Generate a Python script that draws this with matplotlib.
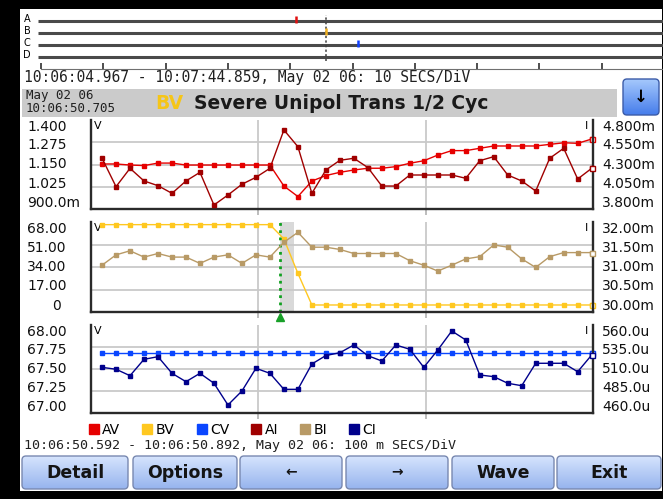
import numpy as np
import matplotlib.pyplot as plt
from matplotlib.lines import Line2D
from matplotlib.patches import Rectangle, FancyBboxPatch

W, H = 663, 499

# event strip: 10:06:04.967 -> 10:07:44.859 (seconds from start)
ev_rows = ["A", "B", "C", "D"]
ev_times = [40.9, 45.74, 50.9]
ev_chan = ["A", "B", "C"]
ev_colors = ["#e01010", "#f0b020", "#1040ff"]
trigger_s = 45.74

# half cycle rms values, 10:06:50.592 -> 10:06:50.892 (ms from start)
t_ms = np.linspace(6.6, 299.2, 36)
AV = [1.153, 1.153, 1.147, 1.144, 1.158, 1.158, 1.147, 1.147, 1.147, 1.147, 1.147, 1.147,
      1.147, 1.029, 0.970, 1.057, 1.088, 1.106, 1.119, 1.129, 1.129, 1.138, 1.157, 1.171,
      1.203, 1.228, 1.228, 1.241, 1.254, 1.254, 1.254, 1.254, 1.263, 1.272, 1.269, 1.293]
AI = [4.370, 4.051, 4.257, 4.115, 4.062, 3.976, 4.115, 4.212, 3.845, 3.957, 4.078, 4.156,
      4.257, 4.688, 4.500, 3.976, 4.238, 4.347, 4.370, 4.266, 4.058, 4.058, 4.182, 4.182,
      4.182, 4.182, 4.145, 4.343, 4.388, 4.182, 4.115, 4.002, 4.370, 4.482, 4.137, 4.257]
BV = [66.0, 66.0, 66.0, 66.0, 66.0, 66.0, 66.0, 66.0, 66.0, 66.0, 66.0, 66.0,
      66.0, 55.2, 29.2, 5.3, 5.3, 5.3, 5.3, 5.3, 5.3, 5.3, 5.3, 5.3,
      5.3, 5.3, 5.3, 5.3, 5.3, 5.3, 5.3, 5.3, 5.3, 5.3, 5.3, 5.3]
BI = [31.04, 31.27, 31.36, 31.22, 31.30, 31.22, 31.22, 31.08, 31.22, 31.27, 31.08, 31.27,
      31.22, 31.55, 31.77, 31.44, 31.44, 31.39, 31.30, 31.30, 31.30, 31.30, 31.14, 31.04,
      30.91, 31.04, 31.18, 31.23, 31.49, 31.44, 31.18, 30.99, 31.23, 31.32, 31.32, 31.32]
CV = [67.68, 67.68, 67.68, 67.68, 67.68, 67.68, 67.68, 67.68, 67.68, 67.68, 67.68, 67.68,
      67.68, 67.68, 67.68, 67.68, 67.68, 67.68, 67.68, 67.68, 67.68, 67.68, 67.68, 67.68,
      67.68, 67.68, 67.68, 67.68, 67.68, 67.68, 67.68, 67.68, 67.68, 67.68, 67.68, 67.68]
CI = [511.9, 509.7, 502.4, 521.0, 524.0, 505.1, 495.6, 505.1, 493.8, 469.1, 485.0, 510.8,
      505.1, 486.9, 486.9, 515.7, 525.3, 528.5, 537.3, 525.1, 519.1, 537.3, 532.4, 511.9,
      531.6, 553.2, 543.0, 503.2, 501.3, 493.8, 491.0, 516.5, 516.5, 516.5, 506.9, 525.9]
trigger_ms = 113.0
cycle_ms = 8.33

names = ["AV", "BV", "CV", "AI", "BI", "CI"]
colors = {"AV": "#e60000", "BV": "#ffc820", "CV": "#0a46ff",
          "AI": "#a00000", "BI": "#b89a66", "CI": "#00008c"}

# tick labels of each panel (left / right)
p1_lt, p1_ll = [1.4, 1.275, 1.15, 1.025, 0.9], ["1.400", "1.275", "1.150", "1.025", "900.0m"]
p1_rt, p1_rl = [4.8, 4.55, 4.3, 4.05, 3.8], ["4.800m", "4.550m", "4.300m", "4.050m", "3.800m"]
p2_lt, p2_ll = [68, 51, 34, 17, 0], ["68.00", "51.00", "34.00", "17.00", "0"]
p2_rt, p2_rl = [32, 31.5, 31, 30.5, 30], ["32.00m", "31.50m", "31.00m", "30.50m", "30.00m"]
p3_lt, p3_ll = [68, 67.75, 67.5, 67.25, 67], ["68.00", "67.75", "67.50", "67.25", "67.00"]
p3_rt, p3_rl = [560, 535, 510, 485, 460], ["560.0u", "535.0u", "510.0u", "485.0u", "460.0u"]

buttons = ["Detail", "Options", "\u2190", "\u2192", "Wave", "Exit"]

plt.rcParams['font.family'] = 'DejaVu Sans'
MONO = 'DejaVu Sans Mono'


def px(x0, y0, x1, y1):
    return [x0 / W, 1 - y1 / H, (x1 - x0) / W, (y1 - y0) / H]


def gradient_box(ax, x0, y0, x1, y1, top, bottom, edge, r=4):
    patch = FancyBboxPatch((x0, y0), x1 - x0, y1 - y0,
                           boxstyle=f"round,pad=0,rounding_size={r}",
                           fc="none", ec=edge, lw=1.0, zorder=3)
    ax.add_patch(patch)
    g = np.linspace(0, 1, 64)[:, None, None]
    top = np.array(top) / 255
    bottom = np.array(bottom) / 255
    img = top * (1 - g) + bottom * g
    im = ax.imshow(img, extent=(x0, x1, y1, y0), aspect='auto', zorder=2,
                   interpolation='bilinear')
    im.set_clip_path(patch)


fig = plt.figure(figsize=(W / 100, H / 100), dpi=100, facecolor="black")

# background layer in pixel units
bg = fig.add_axes([0, 0, 1, 1])
bg.set_xlim(0, W)
bg.set_ylim(H, 0)
bg.axis("off")
bg.add_patch(Rectangle((20, 9), 642, 482, fc="white", ec="none", zorder=0))

bg.text(24, 77, "10:06:04.967 - 10:07:44.859, May 02 06: 10 SECS/DiV",
        fontsize=10.5, family=MONO, va="center", color="#202020")
bg.add_patch(Rectangle((22, 89), 595, 28, fc="#cbcbcb", ec="none", zorder=1))
bg.text(26, 95.5, "May 02 06", fontsize=9, family=MONO, va="center", color="#202020", zorder=4)
bg.text(26, 108.5, "10:06:50.705", fontsize=9, family=MONO, va="center", color="#202020", zorder=4)
bg.text(155, 103, "BV", fontsize=13.5, fontweight="bold", va="center", color="#f5c518", zorder=4)
bg.text(194, 103, "Severe Unipol Trans 1/2 Cyc", fontsize=13.5, fontweight="bold",
        va="center", color="#1a1a1a", zorder=4)
gradient_box(bg, 623, 79, 659, 115, (165, 200, 252), (70, 125, 235), "#3c5ca8", r=4)
bg.text(641, 97, "\u2193", fontsize=12, fontweight="bold", ha="center", va="center", zorder=5)

bg.text(24, 446, "10:06:50.592 - 10:06:50.892, May 02 06: 100 m SECS/DiV",
        fontsize=9.6, family=MONO, va="center", color="#202020")

btn_x = [(22, 128), (133, 237), (240, 342), (346, 448), (452, 554), (557, 661)]
for (x0, x1), lab in zip(btn_x, buttons):
    gradient_box(bg, x0, 456, x1, 489, (214, 228, 253), (150, 180, 238), "#7888b0")
    fs = 12.5 if len(lab) > 1 else 10
    bg.text((x0 + x1) / 2, 472.5, lab, fontsize=fs, fontweight="bold", ha="center",
            va="center", color="#141414", zorder=5)

# event strip
ev = fig.add_axes(px(41, 12, 664, 69))
ev.set_xlim(0, 100)
ev.set_ylim(4.0, -0.75)
ev.patch.set_visible(False)
for s in ["top", "left", "right"]:
    ev.spines[s].set_visible(False)
ev.spines["bottom"].set_color("#707070")
ev.spines["bottom"].set_linewidth(0.8)
ev.set_xticks(np.arange(0, 101, 10))
ev.set_yticks([])
ev.tick_params(axis="x", direction="in", length=4, width=1.2, color="#303030",
               labelbottom=False)
ev.hlines(range(len(ev_rows)), -0.5, 100, color="#4a4a4a", lw=2.2, clip_on=False)
for i, r in enumerate(ev_rows):
    ev.annotate(r, xy=(0, i), xytext=(-14, 2), textcoords="offset pixels",
                fontsize=7, ha="center", va="center", annotation_clip=False)
ev.axvline(trigger_s, ymin=0.14, ymax=0.95, color="#404040", ls=(0, (1.5, 1.5)), lw=1.1)
rows_idx = [ev_rows.index(c) for c in ev_chan]
ev.vlines(ev_times, np.array(rows_idx) - 0.4, np.array(rows_idx) + 0.15,
          colors=ev_colors, lw=1.8, zorder=4)

label_shift = [-7, -3, 0, 3, 6]


def panel(y0, y1, left, right, lt, ll, rt, rl):
    ax = fig.add_axes(px(91, y0, 593, y1))
    ax2 = ax.twinx()
    ax.set_xlim(0, 300)
    ax.set_ylim(lt[-1], lt[0])
    ax2.set_ylim(rt[-1], rt[0])
    ax.set_axisbelow(True)
    ax.set_xticks([100, 200])
    ax.set_yticks(lt[1:-1])
    ax.set_xticklabels([])
    ax.set_yticklabels([])
    ax2.set_yticks([])
    ax.grid(color="#c9c9c9", lw=1.3)
    ax.tick_params(axis="x", direction="out", length=4, width=1.3, color="#b8b8b8")
    ax.tick_params(axis="y", length=0)
    for a in (ax, ax2):
        a.spines["top"].set_visible(False)
        for s in ["left", "bottom", "right"]:
            a.spines[s].set_color("#2a2a2a")
            a.spines[s].set_linewidth(1.7)
    ax.spines["right"].set_visible(False)
    ax2.spines["left"].set_visible(False)
    ax2.spines["bottom"].set_visible(False)
    for v, lab, dy in zip(lt, ll, label_shift):
        xoff = -64 if lab != "0" else -39
        ax.annotate(lab, xy=(0, v), xycoords=("axes fraction", "data"),
                    xytext=(xoff, dy), textcoords="offset pixels", ha="left",
                    va="center", fontsize=10, color="#101010", annotation_clip=False)
    for v, lab, dy in zip(rt, rl, label_shift):
        ax2.annotate(lab, xy=(1, v), xycoords=("axes fraction", "data"),
                     xytext=(9, dy), textcoords="offset pixels", ha="left",
                     va="center", fontsize=10, color="#101010", annotation_clip=False)
    ax.text(0.006, 0.985, "V", transform=ax.transAxes, fontsize=8, va="top", ha="left")
    ax2.text(0.99, 0.985, "I", transform=ax2.transAxes, fontsize=8, va="top", ha="right")
    for a, (name, vals) in ((ax, left), (ax2, right)):
        c = colors[name]
        a.plot(t_ms, vals, color=c, lw=1.0, marker="s", ms=3.4, mec=c, mfc=c,
               clip_on=False, zorder=3)
        a.plot(t_ms[-1], vals[-1], marker="s", ms=3.6, mec=c, mfc="white",
               mew=1.0, clip_on=False, zorder=4)
    return ax, ax2


panel(120, 209, ("AV", AV), ("AI", AI), p1_lt, p1_ll, p1_rt, p1_rl)
ax_b, ax_b2 = panel(222, 312, ("BV", BV), ("BI", BI), p2_lt, p2_ll, p2_rt, p2_rl)
panel(325, 413, ("CV", CV), ("CI", CI), p3_lt, p3_ll, p3_rt, p3_rl)

# trigger marker on BV panel
ax_b.axvspan(trigger_ms, trigger_ms + cycle_ms, color="#d9d9d9", zorder=0.3, lw=0)
ax_b.axvline(trigger_ms, color="#10a020", ls=(0, (1, 1.6)), lw=2.0, zorder=2)
ax_b.plot([trigger_ms], [-0.06], transform=ax_b.get_xaxis_transform(), marker="^",
          ms=6, color="#18a028", clip_on=False, zorder=5)

handles = [Line2D([], [], ls="", marker="s", ms=7, color=colors[n]) for n in names]
fig.legend(handles, names, loc="center left", bbox_to_anchor=(89 / W, 1 - 429.5 / H),
           ncol=6, frameon=False, fontsize=10, handlelength=0.7, handletextpad=0.25,
           columnspacing=1.6, borderpad=0, borderaxespad=0)

fig.savefig("out.png", dpi=100, facecolor="black")
